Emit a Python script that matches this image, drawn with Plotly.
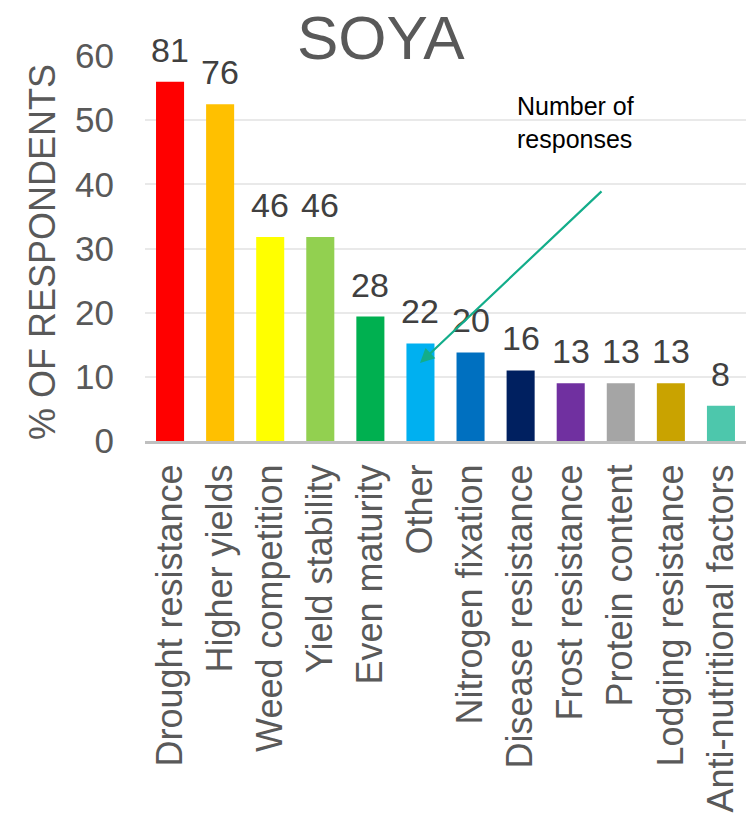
import plotly.graph_objects as go

categories = ["Drought resistance", "Higher yields", "Weed competition", "Yield stability",
              "Even maturity", "Other", "Nitrogen fixation", "Disease resistance",
              "Frost resistance", "Protein content", "Lodging resistance", "Anti-nutritional factors"]
percent = [56.0, 52.5, 31.8, 31.8, 19.4, 15.2, 13.8, 11.0, 9.0, 9.0, 9.0, 5.5]
responses = [81, 76, 46, 46, 28, 22, 20, 16, 13, 13, 13, 8]
colors = ["#FF0000", "#FFC000", "#FFFF00", "#92D050", "#00B050", "#00B0F0",
          "#0070C0", "#002060", "#7030A0", "#A5A5A5", "#C9A300", "#4DC7AC"]
y_ticks = [0, 10, 20, 30, 40, 50, 60]

FONT = "Liberation Sans, Arial, sans-serif"

fig = go.Figure()
fig.add_trace(go.Bar(
    x=categories, y=percent, marker=dict(color=colors, line=dict(width=0)),
    hoverinfo="skip",
))

annotations = []
for c, p, n in zip(categories, percent, responses):
    annotations.append(dict(x=c, y=p, xref="x", yref="y", text=str(n), showarrow=False,
                            yanchor="bottom", yshift=11,
                            font=dict(size=34, color="#404040", family=FONT)))

# title
annotations.append(dict(x=(381 - 145) / 601, y=1 + (56 - 38) / 385, xref="paper", yref="paper",
                        text="SOYA", showarrow=False, xanchor="center", yanchor="middle",
                        font=dict(size=62, color="#595959", family=FONT)))
# y axis title
annotations.append(dict(x=(43 - 145) / 601, y=1 - (252 - 56) / 385, xref="paper", yref="paper",
                        text="% OF RESPONDENTS", showarrow=False, textangle=-90,
                        xanchor="center", yanchor="middle",
                        font=dict(size=36, color="#595959", family=FONT)))
# note text
annotations.append(dict(x=(515 - 145) / 601, y=1 - (123 - 56) / 385, xref="paper", yref="paper",
                        text="Number of<br>responses", showarrow=False, align="left",
                        xanchor="left", yanchor="middle",
                        font=dict(size=25, color="#000000", family=FONT)))
# arrow
annotations.append(dict(x=(420 - 145) / 601, y=1 - (363 - 56) / 385, xref="paper", yref="paper",
                        text="", showarrow=True, axref="pixel", ayref="pixel",
                        ax=603 - 420, ay=190 - 363, arrowhead=2, arrowsize=1.3,
                        arrowwidth=2.2, arrowcolor="#13AD8A", standoff=0))

fig.update_layout(
    width=751, height=825,
    margin=dict(l=145, r=5, t=56, b=384),
    paper_bgcolor="white", plot_bgcolor="white",
    bargap=0.44, showlegend=False,
    font=dict(family=FONT, color="#595959"),
    annotations=annotations,
    xaxis=dict(tickangle=-90, tickfont=dict(size=36, color="#595959", family=FONT),
               showline=True, linecolor="#BFBFBF", linewidth=3, automargin=False,
               ticks="", ticklabelstandoff=6, showgrid=False),
    yaxis=dict(range=[0, 60], tickvals=y_ticks, showgrid=True, gridcolor="#E9E9E9",
               gridwidth=1.5, zeroline=False, showline=False, ticks="", automargin=False,
               tickfont=dict(size=35, color="#595959", family=FONT),
               ticklabelstandoff=30),
)

fig.write_html("out.html")
